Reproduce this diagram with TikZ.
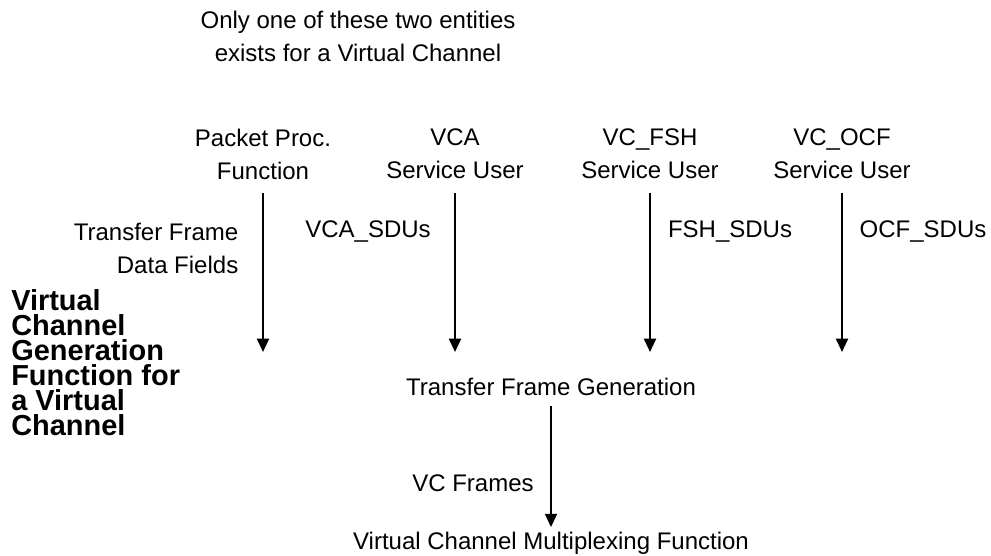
\documentclass[tikz,border=0pt]{standalone}
\usepackage{fontspec}
\setmainfont{Liberation Sans}
\usetikzlibrary{arrows.meta}

\begin{document}
\begin{tikzpicture}[x=0.75pt, y=-0.75pt,
    txt/.style={font=\fontsize{18}{24.75}\selectfont, align=center},
    flow/.style={line width=1.5pt, -{Triangle[width=9pt,length=10pt]}}]

    \useasboundingbox (0,0) rectangle (991,556);

    % --- Note ---
    \node[txt] (note) at (358,36) {Only one of these two entities\\exists for a Virtual Channel};

    % --- Users ---
    \node[txt] (pp)  at (263,154) {Packet Proc.\\Function};
    \node[txt] (vca) at (455,154) {VCA\\Service User};
    \node[txt] (fsh) at (650,154) {VC\_FSH\\Service User};
    \node[txt] (ocf) at (842,154) {VC\_OCF\\Service User};

    % Arrow ends
    \coordinate (ppend)  at (263,352);
    \coordinate (vcaend) at (455,352);
    \coordinate (fshend) at (650,352);
    \coordinate (ocfend) at (842,352);

    \foreach \u in {pp,vca,fsh,ocf}
        \draw[flow, shorten <=7pt] (\u.south) -- (\u end);

    % --- Data units ---
    \node[txt, align=right, anchor=east] (tfdf) at (243,248) {Transfer Frame\\Data Fields};
    \node[txt] (vcasdu) at (368,232) {VCA\_SDUs};
    \node[txt] (fshsdu) at (730,232) {FSH\_SDUs};
    \node[txt] (ocfsdu) at (923,232) {OCF\_SDUs};

    % --- Function name ---
    \node[font=\fontsize{21.7}{18.75}\selectfont\bfseries, align=left, anchor=north west, inner sep=0pt] (vcgf) at (11,289)
        {Virtual\\Channel\\Generation\\Function for\\a Virtual\\Channel};

    % --- Generation and multiplexing ---
    \node[txt] (tfg) at (551,387) {Transfer Frame Generation};
    \node[txt] (vcm) at (551,543) {Virtual Channel Multiplexing Function};
    \draw[flow, shorten <=4pt] (tfg.south) -- (vcm.north);
    \node[txt] (vcf) at (473,483) {VC Frames};

\end{tikzpicture}
\end{document}
